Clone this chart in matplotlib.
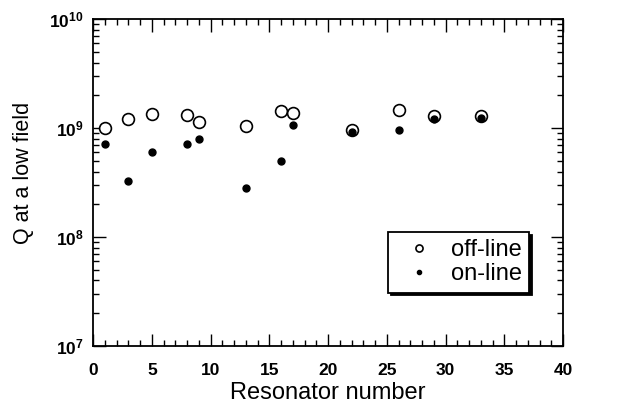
import matplotlib
matplotlib.use('Agg')
import matplotlib.pyplot as plt
from matplotlib.ticker import MultipleLocator, LogLocator, NullFormatter

plt.rcParams['font.family'] = ['Liberation Sans', 'DejaVu Sans']
plt.rcParams['mathtext.default'] = 'regular'

# resonator numbers and low-field Q values
resonators = [1, 3, 5, 8, 9, 13, 16, 17, 22, 26, 29, 33]
q_offline = [1.0e9, 1.2e9, 1.35e9, 1.32e9, 1.14e9, 1.04e9, 1.44e9, 1.38e9, 0.96e9, 1.48e9, 1.3e9, 1.3e9]
q_online = [7.2e8, 3.3e8, 6.1e8, 7.2e8, 8.0e8, 2.8e8, 5.0e8, 1.06e9, 9.25e8, 9.6e8, 1.21e9, 1.25e9]

fig = plt.figure(figsize=(6.3, 4.16), dpi=100)
ax = fig.add_axes([0.148, 0.168, 0.746, 0.786])

ax.plot(resonators, q_offline, 'o', mfc='white', mec='black', mew=1.2, ms=8.5, label='off-line')
ax.plot(resonators, q_online, 'o', color='black', ms=5, label='on-line')

ax.set_yscale('log')
ax.set_xlim(0, 40)
ax.set_ylim(1e7, 1e10)

ax.xaxis.set_major_locator(MultipleLocator(5))
ax.xaxis.set_minor_locator(MultipleLocator(1))
ax.yaxis.set_major_locator(LogLocator(base=10, numticks=10))
ax.yaxis.set_minor_locator(LogLocator(base=10, subs=range(2, 10), numticks=20))
ax.yaxis.set_minor_formatter(NullFormatter())

ax.tick_params(which='both', direction='in', top=True, right=True, width=1)
ax.tick_params(which='major', length=9, labelsize=12.5)
ax.tick_params(which='minor', length=4.5)
ax.tick_params(axis='x', which='major', pad=12)
ax.tick_params(axis='y', which='major', pad=7)
for lbl in ax.get_xticklabels() + ax.get_yticklabels():
    lbl.set_fontweight('bold')
for s in ax.spines.values():
    s.set_linewidth(1.3)

ax.set_xlabel('Resonator number', fontsize=17, labelpad=3)
ax.set_ylabel('Q at a low field', fontsize=15.5)
ax.yaxis.set_label_coords(-0.125, 0.53)

leg = ax.legend(loc='upper left', bbox_to_anchor=(0.628, 0.349), borderaxespad=0,
                fontsize=17, markerscale=0.6, frameon=True, fancybox=False,
                edgecolor='black', handlelength=2.0, handletextpad=0.35,
                borderpad=0.3, labelspacing=0.1,
                shadow={'color': 'black', 'alpha': 1})
leg.get_frame().set_linewidth(1.3)

fig.savefig('out.png', dpi=100)
